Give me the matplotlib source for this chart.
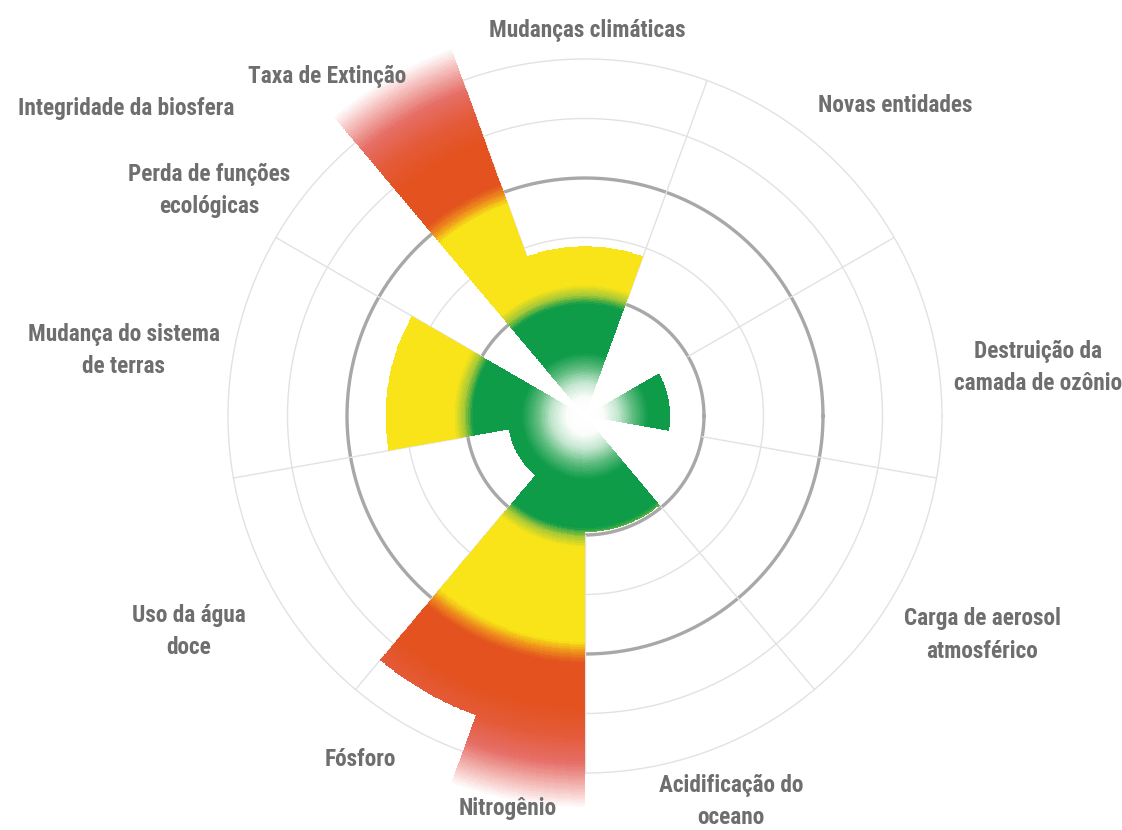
import numpy as np
import matplotlib
matplotlib.use("Agg")
import matplotlib.pyplot as plt
import matplotlib.font_manager as fm
from matplotlib.colors import LinearSegmentedColormap, Normalize

# --- data (units: 2 = safe limit, 4 = high-risk limit) ---
categories = ['Mudanças climáticas', 'Novas entidades', 'Destruição da camada de ozônio',
              'Carga de aerosol atmosférico', 'Acidificação do oceano', 'Nitrogênio',
              'Fósforo', 'Uso da água doce', 'Mudança do sistema de terras',
              'Taxa de Extinção', 'Perda de funções ecológicas']
theta_start = [70, 30, -10, -50, -90, -110, -130, -170, 150, 110, 130]
theta_width = [40, 40, 40, 40, 40, 20, 20, 40, 40, 20, 20]
values = [2.85, 0, 1.43, 0, 1.95, 6.65, 5.35, 1.3, 3.35, 6.6, 0]

labels = ['Mudanças climáticas', 'Taxa de Extinção', 'Integridade da biosfera',
          'Perda de funções\necológicas', 'Novas entidades', 'Destruição da\ncamada de ozônio',
          'Mudança do sistema\nde terras', 'Carga de aerosol\natmosférico', 'Uso da água\ndoce',
          'Fósforo', 'Nitrogênio', 'Acidificação do\noceano']
label_xy = [(587, 31), (327, 76), (126, 108), (209, 191), (895, 105), (1038, 367),
            (124, 350), (982, 635), (189, 631), (360, 760), (508, 808), (731, 801)]

W, H = 1122, 830
CX, CY = 585, 416
UNIT = 59.5
RMAX = 7.0


def pick_font():
    # look for a narrow / condensed face, the labels use a condensed type
    pref = ['Roboto Condensed', 'Noto Sans', 'Noto Sans Condensed', 'Open Sans Condensed',
            'Open Sans', 'DejaVu Sans Condensed', 'DejaVu Sans', 'Liberation Sans Narrow']
    best, best_score = None, None
    for f in fm.fontManager.ttflist:
        st = str(f.stretch)
        if f.style != 'normal':
            continue
        if not ('condensed' in st or 'Narrow' in f.name or 'Condensed' in f.name):
            continue
        w = f.weight if isinstance(f.weight, int) else fm.weight_dict.get(f.weight, 400)
        s = abs(w - 650) / 100.0
        if st == 'semi-condensed':
            s += 1.0
        elif st in ('extra-condensed', 'ultra-condensed'):
            s += 0.6
        s += pref.index(f.name) * 0.3 if f.name in pref else 3
        if best_score is None or s < best_score:
            best, best_score = f, s
    if best is None:
        return fm.FontProperties(family='DejaVu Sans', weight='bold')
    return fm.FontProperties(fname=best.fname)


fig = plt.figure(figsize=(W / 100, H / 100), dpi=100)
fig.patch.set_facecolor('white')
rad = RMAX * UNIT
ax = fig.add_axes([(CX - rad) / W, (H - CY - rad) / H, 2 * rad / W, 2 * rad / H],
                  projection='polar')
ax.set_ylim(0, RMAX)
ax.set_axis_off()

# grid
full = np.linspace(0, 2 * np.pi, 600)
for r in [3, 5, 6]:
    ax.plot(full, np.full_like(full, r), color='#e2e2e2', lw=1.0, zorder=1)
for r in [2, 4]:
    ax.plot(full, np.full_like(full, r), color='#a8a8a8', lw=2.4, zorder=1)
for a in range(70, 430, 40):
    t = np.deg2rad(a)
    ax.plot([t, t], [2, 6], color='#e2e2e2', lw=1.0, zorder=1)

# colour by radius (opaque, blended with white for the glow and the fade)
green = '#0f9c49'
yellow = '#f8e418'
red = '#e3521f'
stops = [(0.0, '#ffffff'), (0.3, '#fbfdfb'), (0.55, '#c4e6cf'), (0.8, '#5dbb7e'),
         (1.05, green), (1.88, green), (2.03, '#a9c936'),
         (2.2, yellow), (3.8, yellow), (3.97, '#ee8f1c'),
         (4.15, red), (4.9, red), (5.4, '#e45b3a'),
         (5.85, '#e66f68'), (6.2, '#f2b0ad'), (6.6, '#ffffff'), (7.0, '#ffffff')]
cmap = LinearSegmentedColormap.from_list('pb', [(p / RMAX, c) for p, c in stops])
norm = Normalize(0, RMAX)

for t0, w, v in zip(theta_start, theta_width, values):
    if v <= 0:
        continue
    th = np.deg2rad(np.linspace(t0, t0 + w, 60))
    rr = np.linspace(0, v, 400)
    T, R = np.meshgrid(th, rr)
    rc = 0.5 * (rr[:-1] + rr[1:])
    C = np.tile(rc[:, None], (1, len(th) - 1))
    ax.pcolormesh(T, R, C, cmap=cmap, norm=norm, shading='flat',
                  antialiased=False, linewidth=0, zorder=3)

# labels: scale one condensed font so the title matches the reference width
fp = pick_font()
renderer = fig.canvas.get_renderer()
probe = fig.text(0, 0, labels[0], fontproperties=fp, fontsize=20)
wpx = probe.get_window_extent(renderer).width
probe.remove()
size = 20 * 196.0 / wpx

for txt, (x, y) in zip(labels, label_xy):
    fig.text(x / W, 1 - y / H, txt, ha='center', va='center', fontproperties=fp,
             fontsize=size, color='#6e6e6e', linespacing=1.5)

fig.savefig('out.png', dpi=100)
